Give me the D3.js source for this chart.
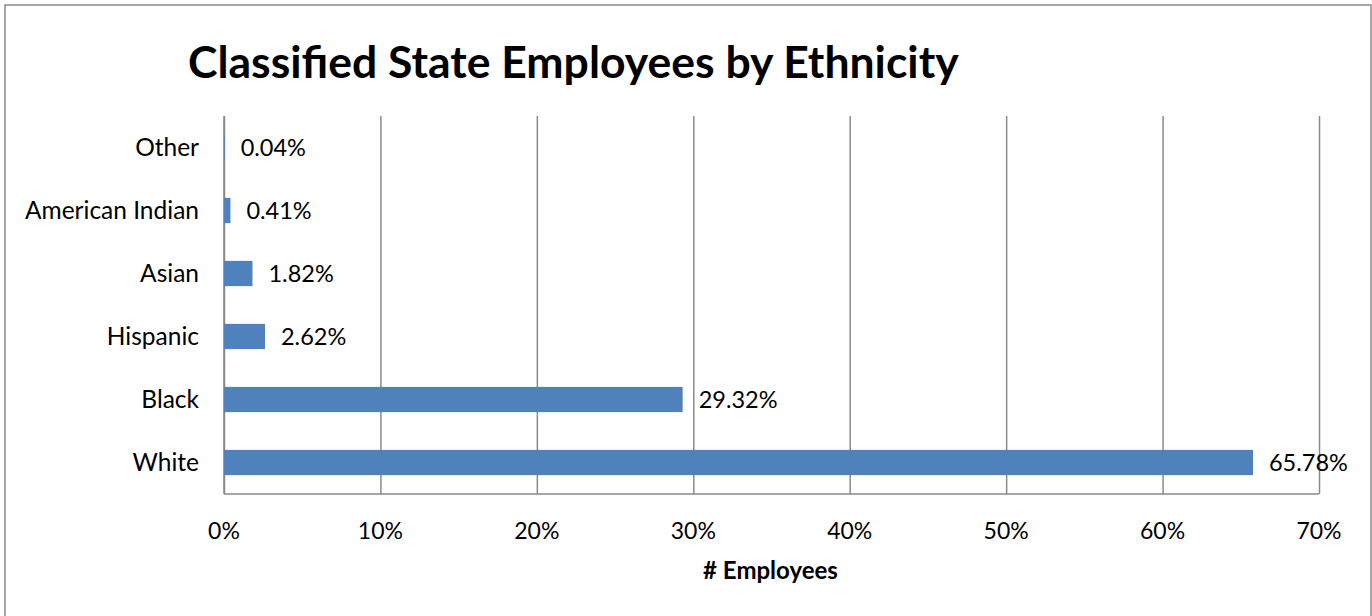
<!DOCTYPE html>
<html>
<meta http-equiv="content-type" content="text/html; charset=utf-8" />
<head>
  <title>Classified State Employees by Ethnicity</title>
</head>
<style>
body { margin: 0; background: #fff; }
text { font-family: Lato, "Open Sans", sans-serif; fill: #000; }
.grid line { stroke: #8a8a8a; stroke-width: 1.5; }
.grid path { display: none; }
.bar { fill: #4f81bd; }
</style>
<body>
<svg class="chart" width="1372" height="616"></svg>
<script src="https://d3js.org/d3.v7.min.js"></script>
<script>
var categories = ["Other", "American Indian", "Asian", "Hispanic", "Black", "White"];
var shares = [0.04, 0.41, 1.82, 2.62, 29.32, 65.78];
var tickValues = [0, 10, 20, 30, 40, 50, 60, 70];

var data = categories.map(function(c, i) { return {name: c, value: shares[i]}; });

var margin = {top: 116, left: 224},
    width = 1319 - 224,
    height = 494 - 116;

var svg = d3.select(".chart");

// outer frame
svg.append("rect")
  .attr("x", 5).attr("y", 5)
  .attr("width", 1366).attr("height", 620)
  .attr("fill", "none")
  .attr("stroke", "#8a8a8a")
  .attr("stroke-width", 1.5);

svg.append("text")
  .attr("x", 188).attr("y", 78)
  .style("font-size", "44.5px")
  .style("font-weight", "bold")
  .text("Classified State Employees by Ethnicity");

var x = d3.scaleLinear().domain([0, 70]).range([0, width]);
var y = d3.scaleBand().domain(categories).range([0, height]).paddingInner(0.6).paddingOuter(0.3);

var chart = svg.append("g")
  .attr("transform", "translate(" + margin.left + "," + margin.top + ")");

// vertical gridlines
chart.append("g")
  .attr("class", "grid")
  .call(d3.axisBottom(x).tickValues(tickValues).tickSize(height).tickFormat(""));

// axis lines
chart.append("line")
  .attr("x1", 0).attr("x2", 0).attr("y1", 0).attr("y2", height)
  .attr("stroke", "#8a8a8a").attr("stroke-width", 1.5);
chart.append("line")
  .attr("x1", 0).attr("x2", width).attr("y1", height).attr("y2", height)
  .attr("stroke", "#8a8a8a").attr("stroke-width", 1.5);

chart.selectAll(".bar")
  .data(data).enter()
  .append("rect")
  .attr("class", "bar")
  .attr("x", 0)
  .attr("y", function(d) { return y(d.name); })
  .attr("width", function(d) { return x(d.value); })
  .attr("height", y.bandwidth());

chart.selectAll(".val")
  .data(data).enter()
  .append("text")
  .attr("class", "val")
  .attr("x", function(d) { return x(d.value) + 16; })
  .attr("y", function(d) { return y(d.name) + y.bandwidth() / 2; })
  .attr("dy", ".36em")
  .style("font-size", "23.5px")
  .text(function(d) { return d.value.toFixed(2) + "%"; });

chart.selectAll(".cat")
  .data(data).enter()
  .append("text")
  .attr("class", "cat")
  .attr("x", -25)
  .attr("y", function(d) { return y(d.name) + y.bandwidth() / 2; })
  .attr("dy", ".36em")
  .style("text-anchor", "end")
  .style("font-size", "24.5px")
  .text(function(d) { return d.name; });

chart.selectAll(".tick-label")
  .data(tickValues).enter()
  .append("text")
  .attr("class", "tick-label")
  .attr("x", function(d) { return x(d); })
  .attr("y", height + 45)
  .style("text-anchor", "middle")
  .style("font-size", "23px")
  .text(function(d) { return d + "%"; });

chart.append("text")
  .attr("x", width / 2 - 1)
  .attr("y", height + 85)
  .style("text-anchor", "middle")
  .style("font-size", "24px")
  .style("font-weight", "bold")
  .text("# Employees");
</script>
</body>
</html>
